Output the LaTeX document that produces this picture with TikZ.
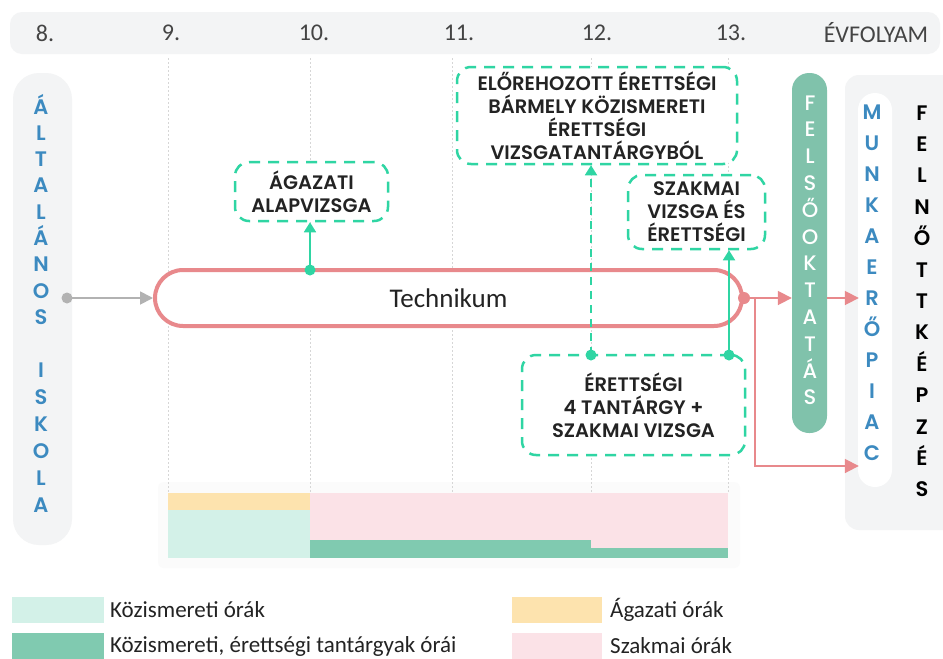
\documentclass[tikz,border=0pt]{standalone}
\usepackage{fontspec}
\setmainfont{Carlito}
\newfontfamily\pop{Poppins SemiBold}
\newfontfamily\popr{Poppins Medium}
\usetikzlibrary{arrows.meta}
\definecolor{mint}{HTML}{2FD5A3}
\definecolor{rose}{HTML}{E8898C}
\definecolor{pale}{HTML}{F3F4F5}
\definecolor{blueL}{HTML}{3C8AC0}
\definecolor{sage}{HTML}{80C2AB}
\definecolor{gridc}{HTML}{D6D6D6}
\definecolor{barO}{HTML}{FDE3AE}
\definecolor{barLG}{HTML}{D3F1E8}
\definecolor{barP}{HTML}{FBE2E7}
\definecolor{barDG}{HTML}{80CAB0}
\definecolor{ink}{HTML}{232323}
\begin{document}
\begin{tikzpicture}[x=1pt,y=-1pt,
  exambox/.style={draw=mint, line width=2.5pt, dash pattern=on 11pt off 8pt,
    rounded corners=14pt, fill=white, text=ink, align=center, inner sep=0pt,
    font=\pop\fontsize{19.5}{23}\selectfont},
  vlet/.style={anchor=base, inner sep=0pt, font=\pop\fontsize{21}{21}\selectfont},
  vletw/.style={anchor=base, inner sep=0pt, font=\popr\fontsize{21}{21}\selectfont, text=white},
  yearlbl/.style={font=\fontsize{24}{24}\selectfont, text=ink!85, inner sep=0pt},
  legtxt/.style={anchor=west, font=\fontsize{23}{23}\selectfont, text=ink, inner sep=0pt},
  gridline/.style={gridc, line width=0.8pt, dash pattern=on 2pt off 2pt},
  greenarrow/.style={mint, line width=1.8pt, -{Triangle[length=10pt,width=12pt]}},
  redarrow/.style={rose, line width=1.8pt, -{Triangle[length=14pt,width=14pt]}},
]
\useasboundingbox (0,0) rectangle (943,659);
\fill[white] (0,0) rectangle (943,659);

% header
\fill[pale, rounded corners=12pt] (10,12) rectangle (940,54);
\node[yearlbl] (y8) at (45,33) {8.};
\node[yearlbl] (y9) at (171,33) {9.};
\node[yearlbl] (y10) at (314,33) {10.};
\node[yearlbl] (y11) at (459,33) {11.};
\node[yearlbl] (y12) at (597,33) {12.};
\node[yearlbl] (y13) at (731,33) {13.};
\node[yearlbl] (yev) at (876,33) {ÉVFOLYAM};

% chart backdrop
\fill[black!1.5, rounded corners=6pt] (158,482) rectangle (740,568);

% grid lines
\foreach \gx in {168,310,452,591,728}
  \draw[gridline] (\gx,58) -- (\gx,492);

% left pill
\fill[pale, rounded corners=26pt] (13,73) rectangle (72,545);
\foreach \c [count=\i from 0] in {Á,L,T,A,L,Á,N,O,S}
  \node[vlet, text=blueL] (al\i) at (41,114+\i*26.3) {\c};
\foreach \c [count=\i from 0] in {I,S,K,O,L,A}
  \node[vlet, text=blueL] (is\i) at (41,377+\i*27) {\c};

% right area
\fill[pale, rounded corners=14pt] (845,75) rectangle (960,530);
\node[inner sep=0pt, minimum width=87pt, minimum height=455pt] (munkbox) at (902.5,302.5) {};
\fill[white, rounded corners=17pt] (858,93) rectangle (892,487);
\foreach \c [count=\i from 0] in {M,U,N,K,A,E,R,Ő,P,I,A,C}
  \node[vlet, text=blueL] (mu\i) at (872,119+\i*31) {\c};
\foreach \c [count=\i from 0] in {F,E,L,N,Ő,T,T,K,É,P,Z,É,S}
  \node[vlet, text=black] (fe\i) at (922,120+\i*31.4) {\c};

% felsooktatas pill
\node[fill=sage, rounded corners=17pt, minimum width=35pt, minimum height=360pt, inner sep=0pt] (fels) at (809.5,253) {};
\foreach \c [count=\i from 0] in {F,E,L,S,Ő,O,K,T,A,T,Á,S}
  \node[vletw] (fo\i) at (810,110+\i*26.8) {\c};

% technikum
\node[draw=rose, line width=4pt, fill=white, rounded corners=28pt,
  minimum width=587pt, minimum height=56pt, inner sep=0pt,
  font=\fontsize{27}{27}\selectfont, text=ink] (tech) at (448.5,298) {Technikum};

% exam boxes
\node[exambox, minimum width=153pt, minimum height=59pt] (ag) at (311.5,191.5) {ÁGAZATI\\ALAPVIZSGA};
\node[exambox, minimum width=280pt, minimum height=97pt] (elo) at (597,115.5)
  {ELŐREHOZOTT ÉRETTSÉGI\\BÁRMELY KÖZISMERETI\\ÉRETTSÉGI\\VIZSGATANTÁRGYBÓL};
\node[exambox, minimum width=137pt, minimum height=74pt] (szak) at (696.5,212) {SZAKMAI\\VIZSGA ÉS\\ÉRETTSÉGI};
\node[exambox, minimum width=223pt, minimum height=100pt] (ere) at (633.5,405) {ÉRETTSÉGI\\4 TANTÁRGY +\\SZAKMAI VIZSGA};

% green connectors
\coordinate (d1) at (310,270);
\coordinate (e1) at (591,355);
\coordinate (e2) at (729,355);
\draw[greenarrow] (d1) -- (d1 |- ag.south);
\draw[greenarrow, dash pattern=on 8pt off 6pt] (e1) -- (e1 |- elo.south);
\draw[greenarrow] (e2) -- (e2 |- szak.south);
\fill[mint] (d1) circle (5.5pt);
\fill[mint] (e1) circle (5.5pt);
\fill[mint] (e2) circle (5.5pt);

% gray arrow
\coordinate (g0) at (67,298);
\draw[black!30, line width=1.8pt, -{Triangle[length=13pt,width=13pt]}] (g0) -- (tech.west);
\fill[black!30] (g0) circle (5.5pt);

% red connectors
\coordinate (br) at (755,298);
\coordinate (low) at (755,466);
\draw[redarrow] (tech.east) -- (fels.west |- tech.east);
\draw[redarrow] (br) -- (low) -- (low -| munkbox.west);
\draw[redarrow] (fels.east |- tech.east) -- (munkbox.west |- tech.east);
\fill[rose] (tech.east) circle (6pt);

% bars
\fill[barO] (168,493) rectangle (310,510);
\fill[barLG] (168,510) rectangle (310,558);
\fill[barP] (310,493) rectangle (591,540);
\fill[barP] (591,493) rectangle (728,548);
\fill[barDG] (310,540) rectangle (591,558);
\fill[barDG] (591,548) rectangle (728,558);

% legend
\fill[barLG] (12,597) rectangle (104,623);
\node[legtxt] (l1) at (110,610) {Közismereti órák};
\fill[barDG] (12,633) rectangle (104,659);
\node[legtxt] (l2) at (110,646) {Közismereti, érettségi tantárgyak órái};
\fill[barO] (512,597) rectangle (602,623);
\node[legtxt] (l3) at (610,610) {Ágazati órák};
\fill[barP] (512,633) rectangle (602,659);
\node[legtxt] (l4) at (610,646) {Szakmai órák};
\end{tikzpicture}
\end{document}
